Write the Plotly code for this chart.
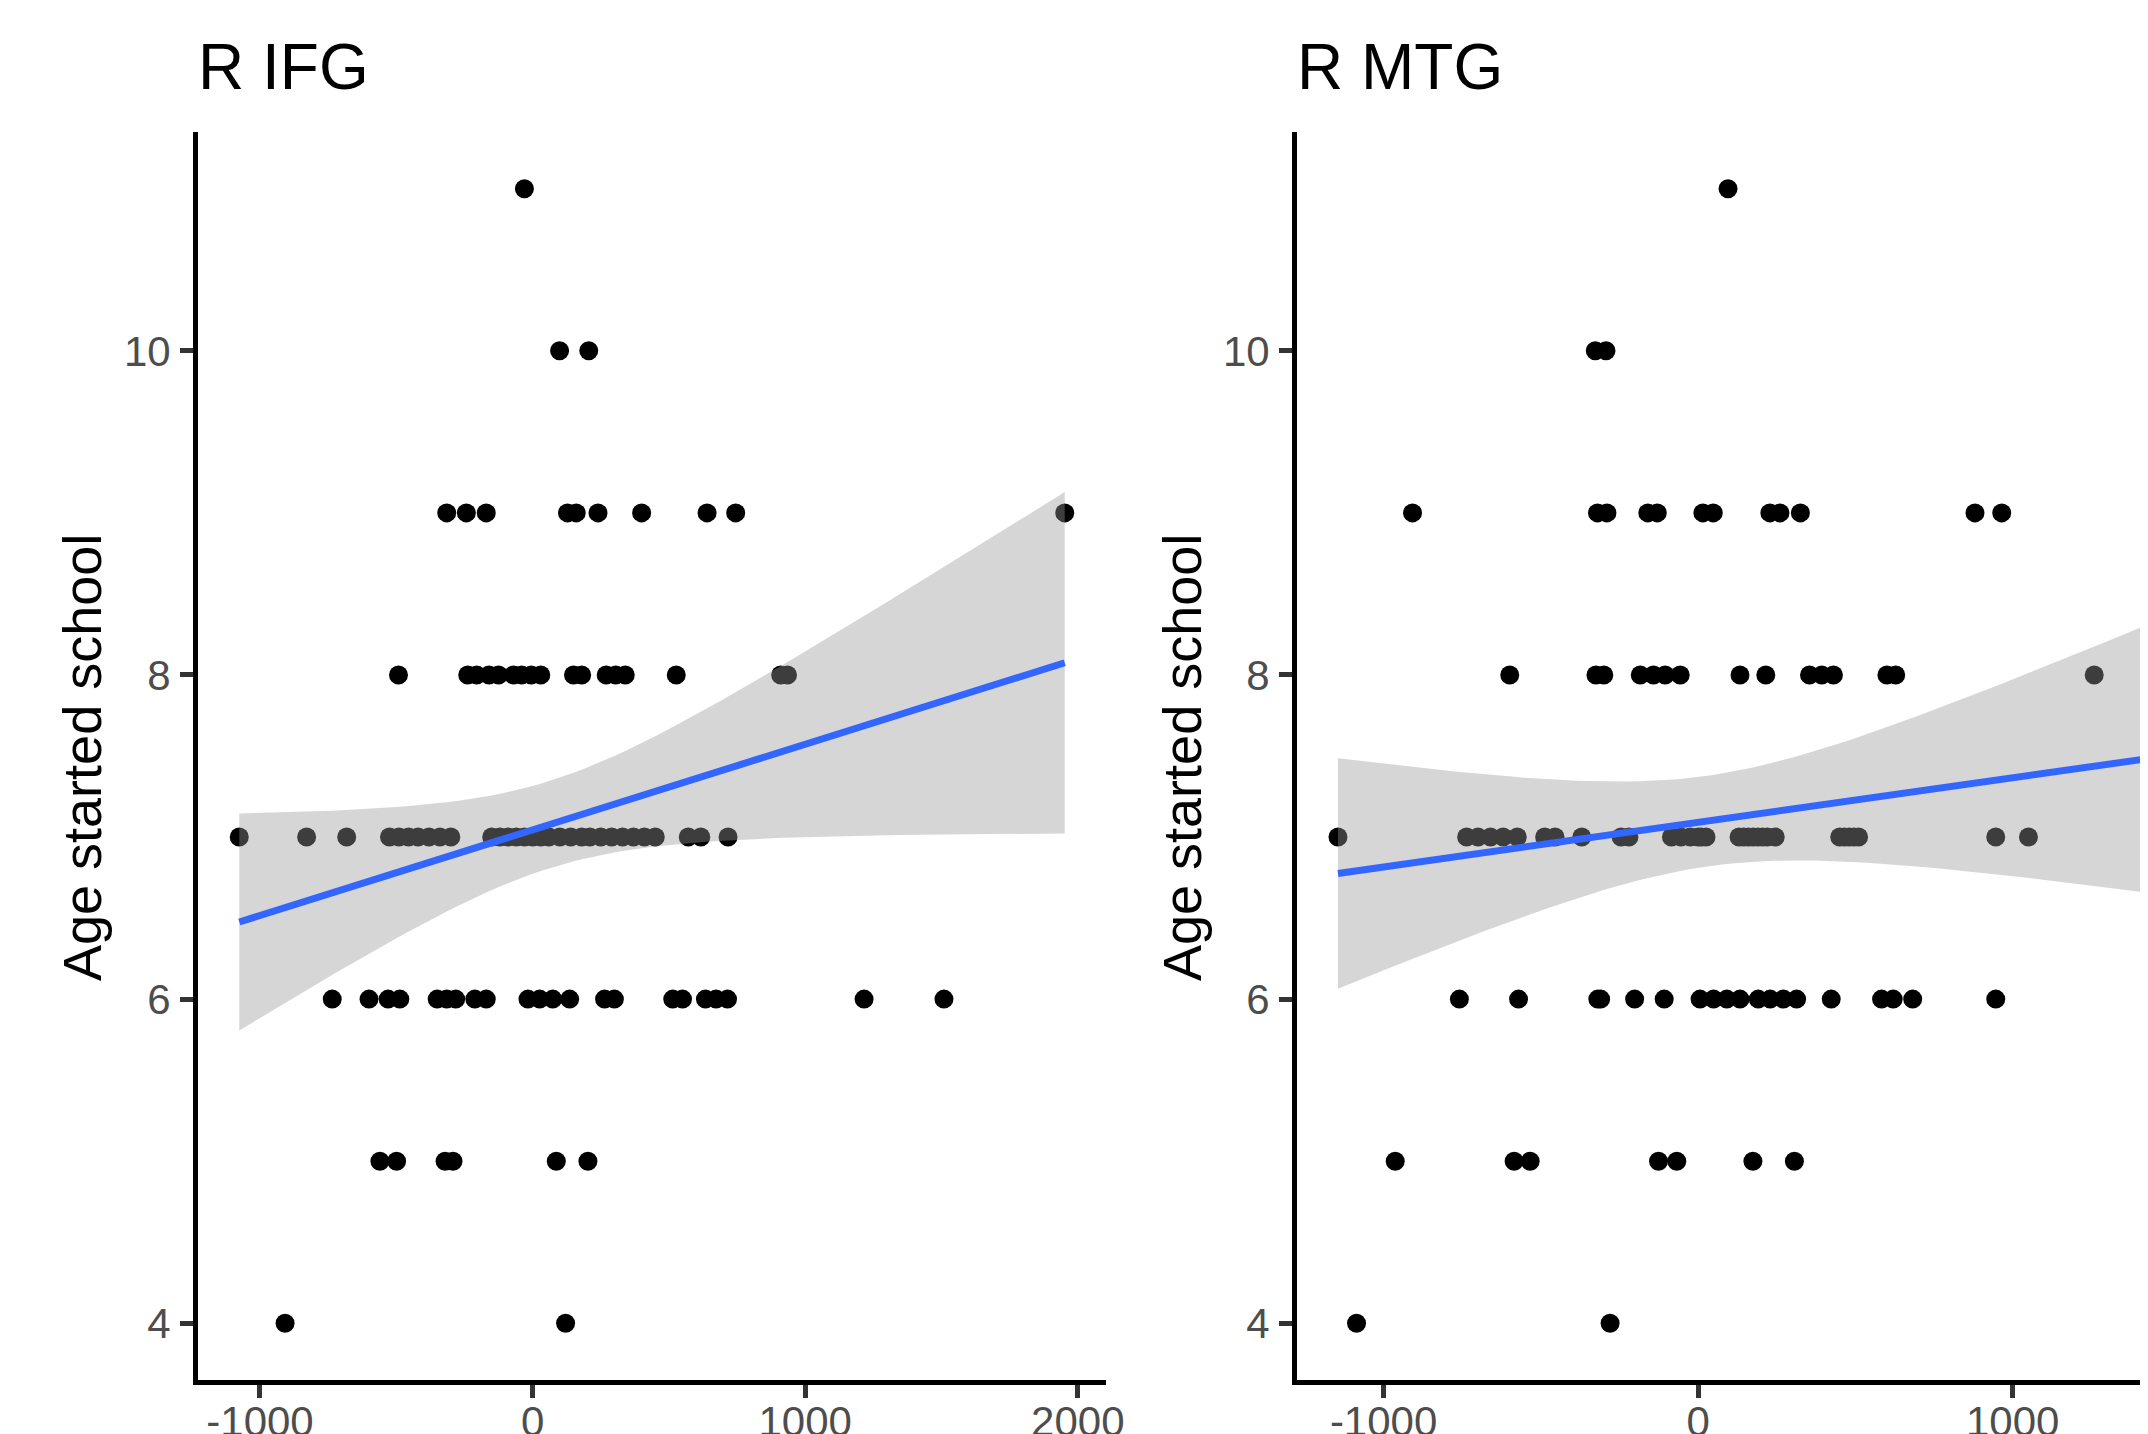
import numpy as np
import plotly.graph_objects as go

# ---------------- data ----------------
# R IFG panel: x values grouped by "Age started school"
ifg_age4 = [-908, 121]
ifg_age5 = [-560, -499, -321, -292, 87, 203]
ifg_age6 = [-735, -600, -530, -487, -350, -315, -282, -212, -170, -17, 26, 74, 136,
            264, 300, 514, 550, 634, 673, 715, 1216, 1509]
ifg_age7 = [-1076, -829, -682, -525, -490, -455, -420, -380, -340, -300, -150, -120,
            -90, -60, -30, 0, 30, 60, 100, 140, 180, 210, 250, 290, 330, 370, 410,
            450, 571, 617, 717]
ifg_age8 = [-492, -238, -205, -160, -125, -70, -40, -5, 30, 150, 180, 270, 305, 340,
            527, 910, 935]
ifg_age9 = [-315, -243, -170, 128, 160, 240, 400, 640, 745, 1952]
ifg_age10 = [99, 206]
ifg_age11 = [-30]

# R MTG panel (the last age-6 point lies just past the cropped right edge)
mtg_age4 = [-1086, -280]
mtg_age5 = [-963, -585, -534, -126, -68, 174, 306]
mtg_age6 = [-759, -571, -319, -310, -202, -108, 6, 49, 91, 133, 191, 229, 271, 313,
            423, 583, 620, 682, 946, 1460]
mtg_age7 = [-1145, -736, -700, -660, -620, -575, -488, -455, -370, -245, -220, -85,
            -55, -25, 0, 10, 25, 130, 145, 160, 175, 190, 205, 220, 245, 450, 465,
            480, 495, 510, 946, 1050]
mtg_age8 = [-599, -325, -300, -184, -142, -105, -57, 133, 215, 354, 393, 430, 600,
            628, 1259]
mtg_age9 = [-908, -320, -290, -160, -130, 15, 48, 228, 260, 325, 880, 965]
mtg_age10 = [-327, -293]
mtg_age11 = [95]

ages = [4, 5, 6, 7, 8, 9, 10, 11]
panel_titles = ["R IFG", "R MTG"]
y_title = "Age started school"
y_ticks = [4, 6, 8, 10]
x_ticks = [-1000, 0, 1000, 2000]
x_tick_labels = ["-1000", "0", "1000", "2000"]


def assemble(groups):
    xs, ys = [], []
    for age, g in zip(ages, groups):
        xs += list(g)
        ys += [age] * len(g)
    return np.array(xs, float), np.array(ys, float)


ifg_x, ifg_y = assemble([ifg_age4, ifg_age5, ifg_age6, ifg_age7, ifg_age8,
                         ifg_age9, ifg_age10, ifg_age11])
mtg_x, mtg_y = assemble([mtg_age4, mtg_age5, mtg_age6, mtg_age7, mtg_age8,
                         mtg_age9, mtg_age10, mtg_age11])


def t975(df):
    z = 1.959964
    return (z + (z**3 + z) / (4 * df) + (5 * z**5 + 16 * z**3 + 3 * z) / (96 * df**2))


def lm_band(x, y, n_grid=80):
    n = len(x)
    xb, yb = x.mean(), y.mean()
    sxx = ((x - xb) ** 2).sum()
    b = ((x - xb) * (y - yb)).sum() / sxx
    a = yb - b * xb
    resid = y - (a + b * x)
    s = np.sqrt((resid ** 2).sum() / (n - 2))
    g = np.linspace(x.min(), x.max(), n_grid)
    fit = a + b * g
    se = s * np.sqrt(1 / n + (g - xb) ** 2 / sxx)
    t = t975(n - 2)
    return g, fit, fit - t * se, fit + t * se


def expanded(x, mult=0.05):
    span = x.max() - x.min()
    return [x.min() - mult * span, x.max() + mult * span]


# ---------------- figure ----------------
# The page body has an 8 px margin, so the figure is 8 px smaller than the window
OFF = 8
W, H = 2148 - OFF, 1434 - OFF
FONT = "Liberation Sans, Arial, sans-serif"

fig = go.Figure()

panels = [(ifg_x, ifg_y, "x", "y"), (mtg_x, mtg_y, "x2", "y2")]
for x, y, xa, ya in panels:
    fig.add_trace(go.Scatter(x=x, y=y, mode="markers", xaxis=xa, yaxis=ya,
                             marker=dict(color="black", size=19, line=dict(width=0)),
                             hoverinfo="skip"))
    g, fit, lo, hi = lm_band(x, y)
    fig.add_trace(go.Scatter(x=np.concatenate([g, g[::-1]]),
                             y=np.concatenate([hi, lo[::-1]]),
                             mode="lines", fill="toself", xaxis=xa, yaxis=ya,
                             fillcolor="rgba(153,153,153,0.4)",
                             line=dict(width=0), hoverinfo="skip"))
    fig.add_trace(go.Scatter(x=g, y=fit, mode="lines", xaxis=xa, yaxis=ya,
                             line=dict(color="#3366FF", width=7), hoverinfo="skip"))


def px_x(p):
    return (p - OFF) / W


def px_y(p):
    return 1 - (p - OFF) / H


axis_common = dict(showline=True, linecolor="black", linewidth=5, showgrid=False,
                   zeroline=False, ticks="outside", ticklen=13, tickwidth=5,
                   tickcolor="#333333", automargin=False,
                   tickfont=dict(family=FONT, size=42, color="#4D4D4D"))

ydom = [px_y(1380), px_y(132)]
ifg_range = expanded(ifg_x)
mtg_range = [expanded(mtg_x)[0], 1430]   # panel is cropped at the right edge
fig.update_layout(
    width=W, height=H, margin=dict(l=0, r=0, t=0, b=0),
    paper_bgcolor="white", plot_bgcolor="white", showlegend=False,
    xaxis=dict(domain=[px_x(198), px_x(1106)], range=ifg_range,
               tickvals=x_ticks, ticktext=x_tick_labels, ticklabelstandoff=-12,
               anchor="y", **axis_common),
    yaxis=dict(domain=ydom, range=[3.65, 11.35], tickvals=y_ticks,
               ticklabelstandoff=1, anchor="x", **axis_common),
    xaxis2=dict(domain=[px_x(1297), 1.0], range=mtg_range,
                tickvals=x_ticks, ticktext=x_tick_labels, ticklabelstandoff=-12,
                anchor="y2", **axis_common),
    yaxis2=dict(domain=ydom, range=[3.65, 11.35], tickvals=y_ticks,
                ticklabelstandoff=1, anchor="x2", **axis_common),
)

annotations = []
for title, tx, ax_x in [(panel_titles[0], 196, 82), (panel_titles[1], 1295, 1182)]:
    annotations.append(dict(text=title, x=px_x(tx), y=px_y(67), xref="paper",
                            yref="paper", xanchor="left", yanchor="middle",
                            showarrow=False,
                            font=dict(family=FONT, size=64, color="black")))
    annotations.append(dict(text=y_title, x=px_x(ax_x), y=px_y(758), xref="paper",
                            yref="paper", xanchor="center", yanchor="middle",
                            textangle=-90, showarrow=False,
                            font=dict(family=FONT, size=54, color="black")))
fig.update_layout(annotations=annotations)

fig.write_html("out.html")
